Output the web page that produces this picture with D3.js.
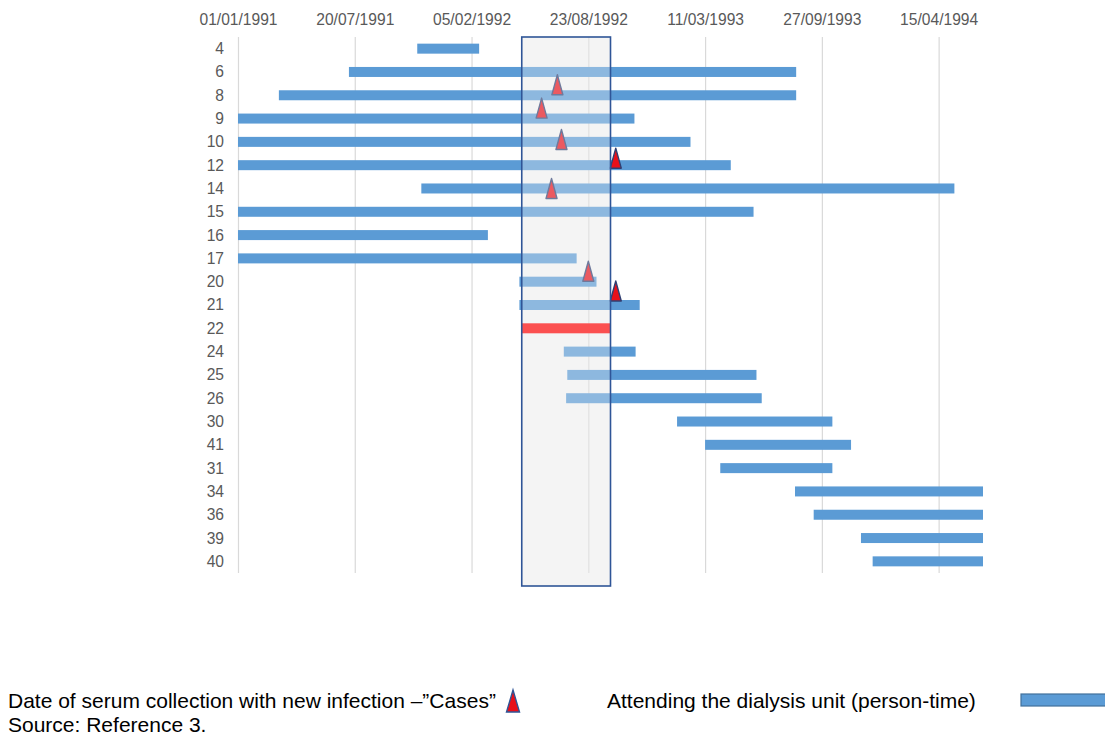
<!DOCTYPE html>
<html><head><meta charset="utf-8">
<script src="https://cdn.jsdelivr.net/npm/d3@7"></script>
<style>body{margin:0;background:#fff}svg{display:block;font-family:"Liberation Sans",Arial,sans-serif}</style>
</head><body><svg id="c" width="1105" height="738"></svg>
<script>
// ---- data ----
const patients = ["4","6","8","9","10","12","14","15","16","17","20","21","22","24","25","26","30","41","31","34","36","39","40"];
const attendStart = ["1991-11-04","1991-07-10","1991-03-12","1991-01-01","1991-01-01","1991-01-01","1991-11-11","1991-01-01","1991-01-01","1991-01-01","1992-04-27","1992-04-27","1992-05-01","1992-07-12","1992-07-18","1992-07-16","1993-01-22","1993-03-11","1993-04-06","1993-08-12","1993-09-13","1993-12-03","1993-12-23"];
const attendEnd   = ["1992-02-18","1993-08-14","1993-08-14","1992-11-10","1993-02-14","1993-04-24","1994-05-12","1993-06-02","1992-03-04","1992-08-03","1992-09-06","1992-11-19","1992-09-30","1992-11-12","1993-06-07","1993-06-16","1993-10-15","1993-11-16","1993-10-15","1994-06-30","1994-06-30","1994-06-30","1994-06-30"];
const highlightPatient = "22";
const caseDates  = ["1992-07-01","1992-06-04","1992-07-08","1992-10-09","1992-06-21","1992-08-23","1992-10-09"];
const caseLevels = [1.55, 2.55, 3.9, 4.7, 6.0, 9.55, 10.4];
const studyStart = "1992-05-01", studyEnd = "1992-09-30";
const axisStart = "1991-01-01", axisEnd = "1994-06-30";
const tickLabels = ["01/01/1991","20/07/1991","05/02/1992","23/08/1992","11/03/1993","27/09/1993","15/04/1994"];
const legendCases = "Date of serum collection with new infection \u2013\u201DCases\u201D";
const legendAttend = "Attending the dialysis unit (person-time)";
const sourceNote = "Source: Reference 3.";

// ---- drawing ----
(function(){
const P = d3.utcParse("%Y-%m-%d"), PT = d3.utcParse("%d/%m/%Y");
const svg = d3.select("#c");
const yTop = 37, yBot = 573, boxBottom = 586;
const x = d3.scaleUtc().domain([P(axisStart), P(axisEnd)]).range([238, 983]);
const y = d3.scalePoint().domain(patients).range([yTop, yBot]).padding(0.5);
const yLev = d3.scaleLinear().domain([0, patients.length - 1]).range([y(patients[0]), y(patients[patients.length-1])]);
const barH = 10;
const bars = patients.map((p, i) => ({p, s: P(attendStart[i]), e: P(attendEnd[i])}));
const cases = caseDates.map((d, i) => ({d: P(d), lev: caseLevels[i]}));

const bx0 = x(P(studyStart)), bx1 = x(P(studyEnd));
svg.append("rect").attr("x", bx0).attr("y", yTop).attr("width", bx1 - bx0).attr("height", boxBottom - yTop).attr("fill", "#f5f5f5");

const ticks = tickLabels.map(t => PT(t));
const ax = d3.axisTop(x).tickValues(ticks).tickFormat((d, i) => tickLabels[i]).tickSize(-(yBot - yTop)).tickPadding(12);
const g = svg.append("g").attr("transform", `translate(0,${yTop})`).call(ax);
g.select(".domain").remove();
g.selectAll(".tick line").attr("stroke", "#d9d9d9").attr("stroke-width", 1.2);
g.selectAll(".tick text").attr("fill", "#595959").attr("font-size", 15.6).attr("font-family", "Liberation Sans, Arial, sans-serif");

svg.append("g").selectAll("text").data(patients).join("text")
  .attr("x", 224).attr("y", d => y(d)).attr("dy", "0.35em").attr("text-anchor", "end")
  .attr("fill", "#595959").attr("font-size", 15.6).text(d => d);

svg.append("g").selectAll("rect").data(bars).join("rect")
  .attr("x", d => x(d.s)).attr("y", d => y(d.p) - barH/2)
  .attr("width", d => x(d.e) - x(d.s)).attr("height", barH)
  .attr("fill", d => d.p === highlightPatient ? "#ff0000" : "#5b9bd5");

const tri = (cx, cy, w, h) => `M${cx},${cy - h/2}L${cx + w/2},${cy + h/2}L${cx - w/2},${cy + h/2}Z`;
svg.append("g").selectAll("path").data(cases).join("path")
  .attr("d", d => tri(x(d.d), yLev(d.lev), 11, 20))
  .attr("fill", "#e8101a").attr("stroke", "#2f3f72").attr("stroke-width", 1.4).attr("stroke-linejoin", "round");

svg.append("rect").attr("x", bx0).attr("y", yTop).attr("width", bx1 - bx0).attr("height", boxBottom - yTop)
  .attr("fill", "rgba(242,242,242,0.33)").attr("stroke", "#2f5597").attr("stroke-width", 1.6);

svg.append("text").attr("x", 8).attr("y", 708).attr("font-size", 21).attr("fill", "#000").text(legendCases);
svg.append("text").attr("x", 8).attr("y", 732).attr("font-size", 21).attr("fill", "#000").text(sourceNote);
svg.append("path").attr("d", tri(513, 701, 13, 22)).attr("fill", "#e8101a").attr("stroke", "#2f5597").attr("stroke-width", 1.4);
svg.append("text").attr("x", 607).attr("y", 708).attr("font-size", 21).attr("fill", "#000").text(legendAttend);
svg.append("rect").attr("x", 1021).attr("y", 694).attr("width", 100).attr("height", 12).attr("fill", "#5b9bd5").attr("stroke", "#41719c").attr("stroke-width", 1.2);
})();
</script></body></html>
